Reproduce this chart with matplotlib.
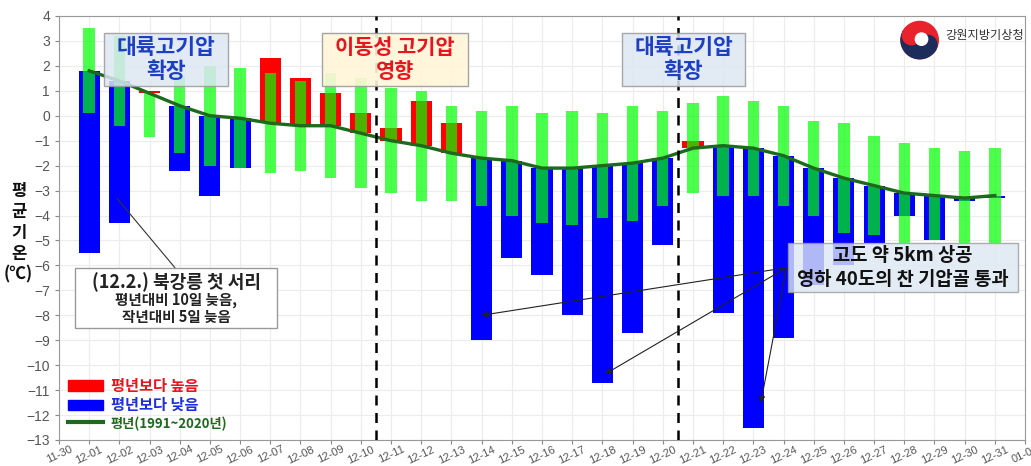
import matplotlib.pyplot as plt
import numpy as np
from matplotlib.patches import Rectangle, Wedge, Circle
from matplotlib.lines import Line2D
from matplotlib.patches import Patch

plt.rcParams['font.family'] = ['Noto Sans CJK KR', 'DejaVu Sans']

# x tick labels (11-30 .. 01-01), bars sit on 12-01 .. 12-31
tick_labels = ['11-30'] + ['12-%02d' % d for d in range(1, 32)] + ['01-01']
days = list(range(1, 32))

# normal (1991~2020) daily mean temperature
normal = [1.8, 1.4, 0.9, 0.4, 0.0, -0.1, -0.3, -0.4, -0.4, -0.7,
          -1.0, -1.2, -1.5, -1.7, -1.8, -2.1, -2.1, -2.0, -1.9, -1.7,
          -1.3, -1.2, -1.3, -1.6, -2.1, -2.5, -2.8, -3.1, -3.2, -3.3, -3.2]
# observed daily mean temperature
actual = [-5.5, -4.3, 1.0, -2.2, -3.2, -2.1, 2.3, 1.5, 0.9, 0.1,
          -0.5, 0.6, -0.3, -9.0, -5.7, -6.4, -8.0, -10.7, -8.7, -5.2,
          -1.0, -7.9, -12.5, -8.9, -6.8, -6.0, -5.1, -4.0, -5.0, -3.4, -3.3]
# light green range bars
range_top = [3.5, 3.2, 0.9, 1.6, 2.0, 1.9, 1.7, 1.4, 1.7, 1.5,
             1.1, 1.0, 0.4, 0.2, 0.4, 0.1, 0.2, 0.1, 0.4, 0.2,
             0.5, 0.8, 0.6, 0.4, -0.2, -0.3, -0.8, -1.1, -1.3, -1.4, -1.3]
range_bot = [0.1, -0.4, -0.85, -1.5, -2.0, -2.1, -2.3, -2.2, -2.5, -2.9,
             -3.1, -3.4, -3.4, -3.6, -4.0, -4.3, -4.4, -4.1, -4.2, -3.6,
             -3.1, -3.2, -3.2, -3.6, -4.0, -4.7, -4.8, -5.1, -5.0, -5.1, -5.1]

fig = plt.figure(figsize=(10.31, 4.66), dpi=100)
ax = fig.add_axes([0.0572, 0.0558, 0.937, 0.9099])

diff = [a - n for a, n in zip(actual, normal)]
colors = ['#ff0000' if d > 0 else '#0000ff' for d in diff]
ax.bar(days, diff, bottom=normal, width=0.7, color=colors, zorder=2)

rng = [t - b for t, b in zip(range_top, range_bot)]
ax.bar(days, rng, bottom=range_bot, width=0.38, color='#00ff00', alpha=0.7,
       zorder=3, linewidth=0)

ax.plot(days, normal, color='#1d6a1d', lw=2.4, zorder=4)

for xv in [10.5, 20.5]:
    ax.axvline(xv, color='black', ls=(0, (4, 3)), lw=1.8, zorder=5)

ax.set_xlim(0, 32)
ax.set_ylim(-13, 4)
ax.set_yticks(range(-13, 5))
ax.set_xticks(range(0, 33))
ax.set_xticklabels(tick_labels, rotation=25, ha='center', fontsize=8,
                   color='#555555', family='Liberation Sans')
for t in ax.get_yticklabels():
    t.set_family('Liberation Sans')
ax.tick_params(axis='y', labelsize=10, labelcolor='#555555', color='#888888', length=3)
ax.tick_params(axis='x', color='#888888', length=3, pad=0)
ax.grid(True, color='#ececec', lw=0.8, zorder=0)
ax.set_axisbelow(True)
for s in ax.spines.values():
    s.set_color('#999999')

# boxes
def box(x0, x1, y0, y1, fc, ec='#9a9a9a', alpha=0.85):
    ax.add_patch(Rectangle((x0, y0), x1 - x0, y1 - y0, facecolor=fc, edgecolor=ec,
                           lw=1, alpha=alpha, zorder=6))

box(1.49, 5.6, 1.18, 3.32, '#dde7f3')
ax.text(3.55, 2.73, '대륙고기압', ha='center', va='center', fontsize=15.5,
        fontweight='bold', color='#1c3fc4', zorder=7)
ax.text(3.55, 1.78, '확장', ha='center', va='center', fontsize=15.5,
        fontweight='bold', color='#1c3fc4', zorder=7)

box(8.71, 13.55, 1.18, 3.32, '#fff6d9', alpha=0.9)
ax.text(11.13, 2.73, '이동성 고기압', ha='center', va='center', fontsize=15,
        fontweight='bold', color='#e8141e', zorder=7)
ax.text(11.13, 1.78, '영향', ha='center', va='center', fontsize=15,
        fontweight='bold', color='#e8141e', zorder=7)

box(18.65, 22.72, 1.18, 3.32, '#dde7f3')
ax.text(20.69, 2.73, '대륙고기압', ha='center', va='center', fontsize=15.5,
        fontweight='bold', color='#1c3fc4', zorder=7)
ax.text(20.69, 1.78, '확장', ha='center', va='center', fontsize=15.5,
        fontweight='bold', color='#1c3fc4', zorder=7)

# first frost note
ax.plot([1.92, 3.84], [-3.31, -6.09], color='#333333', lw=0.8, zorder=6)
box(0.53, 7.22, -8.51, -6.09, 'white', alpha=1.0)
ax.text(3.88, -6.69, '(12.2.) 북강릉 첫 서리', ha='center', va='center', fontsize=13,
        fontweight='bold', color='#222222', zorder=7)
ax.text(3.88, -7.4, '평년대비 10일 늦음,', ha='center', va='center', fontsize=10.5,
        fontweight='bold', color='#222222', zorder=7)
ax.text(3.88, -8.08, '작년대비 5일 늦음', ha='center', va='center', fontsize=10.5,
        fontweight='bold', color='#222222', zorder=7)

# cold trough note
for tx, ty in [(14.0, -8.0), (18.1, -10.35), (23.25, -11.5)]:
    ax.annotate('', xy=(tx, ty), xytext=(24.1, -6.09),
                arrowprops=dict(arrowstyle='-|>', color='#222222', lw=0.8,
                                mutation_scale=9, shrinkA=0, shrinkB=0),
                zorder=6)
box(24.15, 31.77, -7.08, -5.1, '#dde7f3', alpha=0.8)
ax.text(27.96, -5.61, '고도 약 5km 상공', ha='center', va='center', fontsize=13.5,
        fontweight='bold', color='#111111', zorder=7)
ax.text(27.96, -6.57, '영하 40도의 찬 기압골 통과', ha='center', va='center', fontsize=13.5,
        fontweight='bold', color='#111111', zorder=7)

# legend
handles = [Patch(color='#ff0000'), Patch(color='#0000ff'),
           Line2D([0], [0], color='#1d6a1d', lw=3)]
labels = ['평년보다 높음', '평년보다 낮음', '평년(1991~2020년)']
leg = ax.legend(handles, labels, loc='lower left', bbox_to_anchor=(0.0, 0.0),
                frameon=False, fontsize=11, handlelength=2.3, handleheight=0.72,
                handletextpad=0.5, labelspacing=0.2, borderaxespad=0.2,
                labelcolor=['#e8141e', '#1c2fe0', '#1d6a1d'])
for t in leg.get_texts():
    t.set_fontweight('bold')
leg.get_texts()[2].set_fontsize(9.5)
leg.set_zorder(8)

# y label
fig.text(0.018, 0.5, '평\n균\n기\n온\n(℃)', ha='center', va='center', fontsize=12,
         fontweight='bold', linespacing=1.2, color='#111111')

# logo
lax = fig.add_axes([0.872, 0.87, 0.04, 0.088])
lax.set_aspect('equal')
lax.axis('off')
lax.add_patch(Circle((0, 0), 1, color='#e8232b'))
lax.add_patch(Wedge((0, 0), 1, 150, 330, color='#1c2c5b'))
lax.add_patch(Circle((0.43, -0.25), 0.5, color='#1c2c5b'))
lax.add_patch(Circle((-0.43, 0.25), 0.5, color='#e8232b'))
lax.add_patch(Circle((0.1, 0.05), 0.33, color='white'))
lax.set_xlim(-1.1, 1.1)
lax.set_ylim(-1.1, 1.1)
fig.text(0.993, 0.923, '강원지방기상청', ha='right', va='center', fontsize=8.8,
         color='#333333')

fig.savefig('out.png', dpi=100)
